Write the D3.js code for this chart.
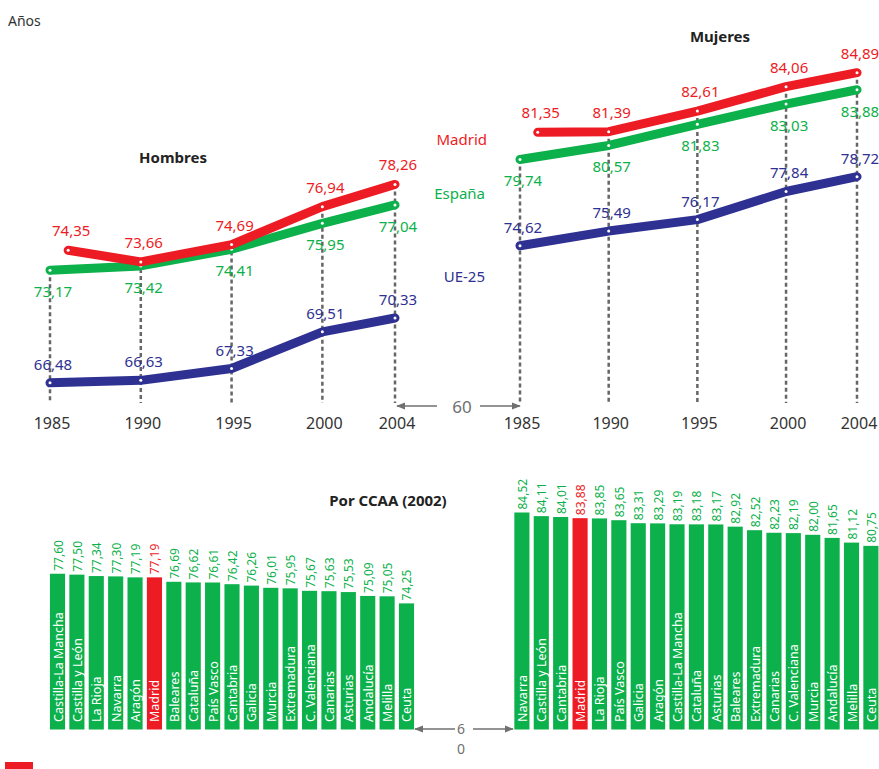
<!DOCTYPE html>
<html>
<head>
<meta charset="utf-8">
<script src="https://cdn.jsdelivr.net/npm/d3@7"></script>
<style>
  body { margin: 0; background: #fff; }
  text { font-family: "Noto Sans", sans-serif; }
</style>
</head>
<body>
<div id="chart"></div>
<script>
var years = [1985, 1990, 1995, 2000, 2004];
var madridYears = [1986, 1990, 1995, 2000, 2004];

var hombresMadrid = [74.35, 73.66, 74.69, 76.94, 78.26];
var hombresEspana = [73.17, 73.42, 74.41, 75.95, 77.04];
var hombresUE = [66.48, 66.63, 67.33, 69.51, 70.33];

var mujeresMadrid = [81.35, 81.39, 82.61, 84.06, 84.89];
var mujeresEspana = [79.74, 80.57, 81.83, 83.03, 83.88];
var mujeresUE = [74.62, 75.49, 76.17, 77.84, 78.72];

var ccaaHombres = ['Castilla-La Mancha', 'Castilla y León', 'La Rioja', 'Navarra', 'Aragón', 'Madrid',
  'Baleares', 'Cataluña', 'País Vasco', 'Cantabria', 'Galicia', 'Murcia', 'Extremadura',
  'C. Valenciana', 'Canarias', 'Asturias', 'Andalucía', 'Melilla', 'Ceuta'];
var ccaaHombresValues = [77.60, 77.50, 77.34, 77.30, 77.19, 77.19, 76.69, 76.62, 76.61, 76.42,
  76.26, 76.01, 75.95, 75.67, 75.63, 75.53, 75.09, 75.05, 74.25];

var ccaaMujeres = ['Navarra', 'Castilla y León', 'Cantabria', 'Madrid', 'La Rioja', 'País Vasco',
  'Galicia', 'Aragón', 'Castilla-La Mancha', 'Cataluña', 'Asturias', 'Baleares', 'Extremadura',
  'Canarias', 'C. Valenciana', 'Murcia', 'Andalucía', 'Melilla', 'Ceuta'];
var ccaaMujeresValues = [84.52, 84.11, 84.01, 83.88, 83.85, 83.65, 83.31, 83.29, 83.19, 83.18,
  83.17, 82.92, 82.52, 82.23, 82.19, 82.00, 81.65, 81.12, 80.75];

var red = '#ed1c24', green = '#0db14b', blue = '#2e3192', grey = '#707070';

var width = 879, height = 769;

var svg = d3.select('#chart').append('svg')
  .attr('width', width)
  .attr('height', height);

var defs = svg.append('defs');
defs.append('marker')
  .attr('id', 'arrow')
  .attr('viewBox', '0 0 10 10')
  .attr('refX', 9).attr('refY', 5)
  .attr('markerWidth', 9).attr('markerHeight', 9)
  .attr('markerUnits', 'userSpaceOnUse')
  .attr('orient', 'auto')
  .append('path')
  .attr('d', 'M0,1 L10,5 L0,9 Z')
  .attr('fill', grey);

// shared value scale for both line charts (axis broken at 60)
var y = d3.scaleLinear().domain([65, 86]).range([407.8, 54]);
var baseY = 403;

function fmt(v) { return d3.format('.2f')(v).replace('.', ','); }

function lineChart(x, madrid, espana, ue) {
  var g = svg.append('g');
  var series = [
    {years: years, values: espana, color: green, dy: 27},
    {years: madridYears, values: madrid, color: red, dy: -14},
    {years: years, values: ue, color: blue, dy: -13}
  ];

  // dashed guides from top value down to the base
  years.forEach(function(yr, i) {
    var top = d3.max([espana[i], ue[i], i > 0 ? madrid[i] : espana[i]]);
    g.append('line')
      .attr('x1', x(yr)).attr('x2', x(yr))
      .attr('y1', y(top)).attr('y2', baseY)
      .attr('stroke', '#666')
      .attr('stroke-width', 2.5)
      .attr('stroke-dasharray', '4,3');
  });

  g.selectAll('.yr')
    .data(years)
    .enter().append('text')
    .attr('x', function(d) { return x(d) + 2; })
    .attr('y', 429)
    .attr('text-anchor', 'middle')
    .style('font-size', '16px')
    .style('fill', '#333')
    .text(function(d) { return d; });

  var line = d3.line()
    .x(function(d) { return x(d.year); })
    .y(function(d) { return y(d.value); });

  series.forEach(function(s) {
    var pts = s.values.map(function(v, i) { return {year: s.years[i], value: v}; });
    g.append('path')
      .datum(pts)
      .attr('d', line)
      .attr('fill', 'none')
      .attr('stroke', s.color)
      .attr('stroke-width', 9)
      .attr('stroke-linecap', 'round')
      .attr('stroke-linejoin', 'round');
    g.selectAll(null)
      .data(pts)
      .enter().append('circle')
      .attr('cx', function(d) { return x(d.year); })
      .attr('cy', function(d) { return y(d.value); })
      .attr('r', 1.5)
      .attr('fill', '#fff');
    s.pts = pts;
  });

  series.forEach(function(s) {
    g.selectAll(null)
      .data(s.pts)
      .enter().append('text')
      .attr('x', function(d) { return x(d.year) + 3; })
      .attr('y', function(d) { return y(d.value) + s.dy; })
      .attr('text-anchor', 'middle')
      .style('font-size', '15px')
      .style('fill', s.color)
      .text(function(d) { return fmt(d.value); });
  });
}

var xH = d3.scaleLinear().domain([1985, 2004]).range([50, 395]);
var xM = d3.scaleLinear().domain([1985, 2004]).range([520, 857]);

lineChart(xH, hombresMadrid, hombresEspana, hombresUE);
lineChart(xM, mujeresMadrid, mujeresEspana, mujeresUE);

// bar charts by region
var yb = d3.scaleLinear().domain([60, 85]).range([729.5, 508.25]);

function barChart(x0, x1, names, values) {
  var x = d3.scaleBand().domain(names).range([x0, x1]).paddingInner(0.22).paddingOuter(0.1);
  var g = svg.append('g');
  var col = function(d) { return d === 'Madrid' ? red : green; };

  g.selectAll('rect')
    .data(names)
    .enter().append('rect')
    .attr('x', function(d) { return x(d); })
    .attr('width', x.bandwidth())
    .attr('y', function(d, i) { return yb(values[i]); })
    .attr('height', function(d, i) { return yb(60) - yb(values[i]); })
    .attr('fill', col);

  g.selectAll('.val')
    .data(names)
    .enter().append('text')
    .attr('transform', function(d, i) {
      return 'translate(' + (x(d) + x.bandwidth() / 2 + 5) + ',' + (yb(values[i]) - 3) + ') rotate(-90)';
    })
    .style('font-size', '12px')
    .style('fill', col)
    .text(function(d, i) { return fmt(values[i]); });

  g.selectAll('.name')
    .data(names)
    .enter().append('text')
    .attr('transform', function(d) {
      return 'translate(' + (x(d) + x.bandwidth() / 2 + 5) + ',722) rotate(-90)';
    })
    .style('font-size', '12.5px')
    .style('fill', '#fff')
    .text(function(d) { return d; });
}

barChart(48, 416, ccaaHombres, ccaaHombresValues);
barChart(512.4, 880.4, ccaaMujeres, ccaaMujeresValues);

// titles and labels
svg.append('text').attr('x', 8).attr('y', 26)
  .style('font-size', '14px').style('fill', '#333').text('Años');

[['Hombres', 173, 163], ['Mujeres', 720, 42], ['Por CCAA (2002)', 388, 506]].forEach(function(t) {
  svg.append('text')
    .attr('x', t[1]).attr('y', t[2])
    .attr('text-anchor', 'middle')
    .style('font-size', '15px')
    .style('font-weight', 'bold')
    .style('fill', '#222')
    .text(t[0]);
});

[['Madrid', red, 487, 145], ['España', green, 485, 199], ['UE-25', blue, 485, 282]].forEach(function(t) {
  svg.append('text')
    .attr('x', t[2]).attr('y', t[3])
    .attr('text-anchor', 'end')
    .style('font-size', '15px')
    .style('fill', t[1])
    .text(t[0]);
});

// axis break markers
function arrow(xa, xb, yy) {
  svg.append('line')
    .attr('x1', xa).attr('x2', xb)
    .attr('y1', yy).attr('y2', yy)
    .attr('stroke', grey)
    .attr('stroke-width', 1.5)
    .attr('marker-end', 'url(#arrow)');
}

arrow(437, 397, 406);
arrow(480, 520, 406);
svg.append('text').attr('x', 462).attr('y', 413)
  .attr('text-anchor', 'middle')
  .style('font-size', '17px').style('fill', grey).text('60');

arrow(455, 415, 729);
arrow(473, 513, 729);
// "60" wrapped on two lines in the narrow gap
var brk = svg.append('text')
  .attr('x', 461).attr('y', 734)
  .attr('text-anchor', 'middle')
  .style('font-size', '14px').style('fill', grey);
brk.append('tspan').attr('x', 461).text('6');
brk.append('tspan').attr('x', 461).attr('dy', 20).text('0');

svg.append('rect')
  .attr('x', 5).attr('y', 762)
  .attr('width', 28).attr('height', 7)
  .attr('fill', red);
</script>
</body>
</html>
